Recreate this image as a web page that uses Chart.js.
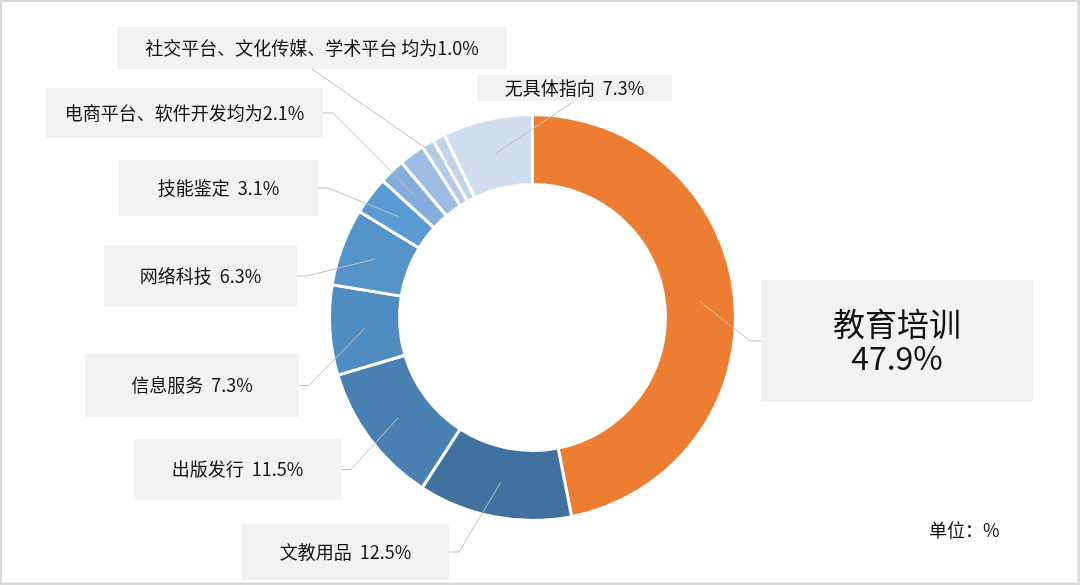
<!DOCTYPE html>
<html>
<head>
<meta charset="utf-8">
<script src="https://cdn.jsdelivr.net/npm/chart.js@4.4.1/dist/chart.umd.min.js"></script>
<style>
  body { margin: 0; background: #fff; }
  #wrap { width: 1080px; height: 585px; }
</style>
</head>
<body>
<div id="wrap"><canvas id="grafik" width="1080" height="585"></canvas></div>
<script>
const kategori = ['教育培训', '文教用品', '出版发行', '信息服务', '网络科技', '技能鉴定', '电商平台', '软件开发', '社交平台', '文化传媒', '无具体指向'];
const nilai = [47.9, 12.5, 11.5, 7.3, 6.3, 3.1, 2.1, 2.1, 1.0, 1.0, 7.3];
const warna = ['#ed7d31', '#41729f', '#4a80b2', '#4f8cc2', '#5593cb', '#5b9bd5', '#84acdc', '#9dbde4', '#b3cae8', '#c0d4ec', '#cfddee'];

// teks label (judul gabungan sesuai gambar)
const labelTeks = [
    ['教育培训', '47.9%'],
    ['文教用品  12.5%'],
    ['出版发行  11.5%'],
    ['信息服务  7.3%'],
    ['网络科技  6.3%'],
    ['技能鉴定  3.1%'],
    ['电商平台、软件开发均为2.1%'],
    ['社交平台、文化传媒、学术平台 均为1.0%'],
    ['无具体指向  7.3%']
];

// posisi kotak label: idx = potongan yang ditunjuk garis
const kotakLabel = [
    { idx: 0, x: 761, y: 280, w: 272, h: 122, size: 32, sisi: 'kiri' },
    { idx: 1, x: 242, y: 524, w: 207, h: 56, size: 18, sisi: 'kanan' },
    { idx: 2, x: 134, y: 439, w: 207, h: 61, size: 18, sisi: 'kanan' },
    { idx: 3, x: 85, y: 354, w: 214, h: 63, size: 18, sisi: 'kanan' },
    { idx: 4, x: 104, y: 245, w: 193, h: 62, size: 18, sisi: 'kanan' },
    { idx: 5, x: 119, y: 160, w: 199, h: 56, size: 18, sisi: 'kanan' },
    { idx: 6, x: 46, y: 88, w: 277, h: 50, size: 18, sisi: 'kanan' },
    { idx: 9, x: 117, y: 27, w: 390, h: 42, size: 18, sisi: 'bawah' },
    { idx: 10, x: 477, y: 75, w: 195, h: 26, size: 18, sisi: 'bawah' }
];

const fontCJK = '"Noto Sans CJK SC", "Microsoft YaHei", sans-serif';

const labelPlugin = {
    id: 'labelPlugin',
    afterDraw(c) {
        const ctx = c.ctx;
        const arcs = c.getDatasetMeta(0).data;
        ctx.save();

        kotakLabel.forEach((k, i) => {
            ctx.fillStyle = '#f2f2f2';
            ctx.fillRect(k.x, k.y, k.w, k.h);

            // garis penunjuk
            const p = arcs[k.idx].tooltipPosition();
            ctx.strokeStyle = '#bfbfbf';
            ctx.lineWidth = 1;
            ctx.beginPath();
            if (k.sisi === 'kiri') {
                const yy = k.y + k.h / 2;
                ctx.moveTo(k.x, yy);
                ctx.lineTo(k.x - 11, yy);
            } else if (k.sisi === 'kanan') {
                const yy = k.y + k.h / 2;
                ctx.moveTo(k.x + k.w, yy);
                ctx.lineTo(k.x + k.w + 10, yy);
            } else {
                ctx.moveTo(k.x + k.w / 2, k.y + k.h);
            }
            ctx.lineTo(p.x, p.y);
            ctx.stroke();

            // teks
            const baris = labelTeks[i];
            ctx.fillStyle = '#111111';
            ctx.font = k.size + 'px ' + fontCJK;
            ctx.textAlign = 'center';
            ctx.textBaseline = 'middle';
            const tinggi = k.size * 1.05;
            const y0 = k.y + k.h / 2 - (baris.length - 1) * tinggi / 2;
            baris.forEach((t, j) => {
                ctx.fillText(t, k.x + k.w / 2, y0 + j * tinggi);
            });
        });

        ctx.font = '18px ' + fontCJK;
        ctx.textAlign = 'left';
        ctx.textBaseline = 'middle';
        ctx.fillStyle = '#111111';
        ctx.fillText('单位：%', 929, 530);

        // bingkai
        ctx.strokeStyle = '#d9d9d9';
        ctx.lineWidth = 3;
        ctx.strokeRect(0.5, 0.5, c.width - 1.5, c.height - 1.5);
        ctx.restore();
    }
};

const ctx = document.getElementById('grafik').getContext('2d');
const chart = new Chart(ctx, {
    type: 'doughnut',
    data: {
        labels: kategori,
        datasets: [{
            data: nilai,
            backgroundColor: warna,
            borderColor: '#ffffff',
            borderWidth: 3
        }]
    },
    options: {
        responsive: false,
        animation: false,
        cutout: '65.5%',
        layout: {
            padding: { left: 328, right: 343, top: 113, bottom: 63 }
        },
        plugins: {
            legend: { display: false },
            tooltip: { enabled: false }
        }
    },
    plugins: [labelPlugin]
});
</script>
</body>
</html>
